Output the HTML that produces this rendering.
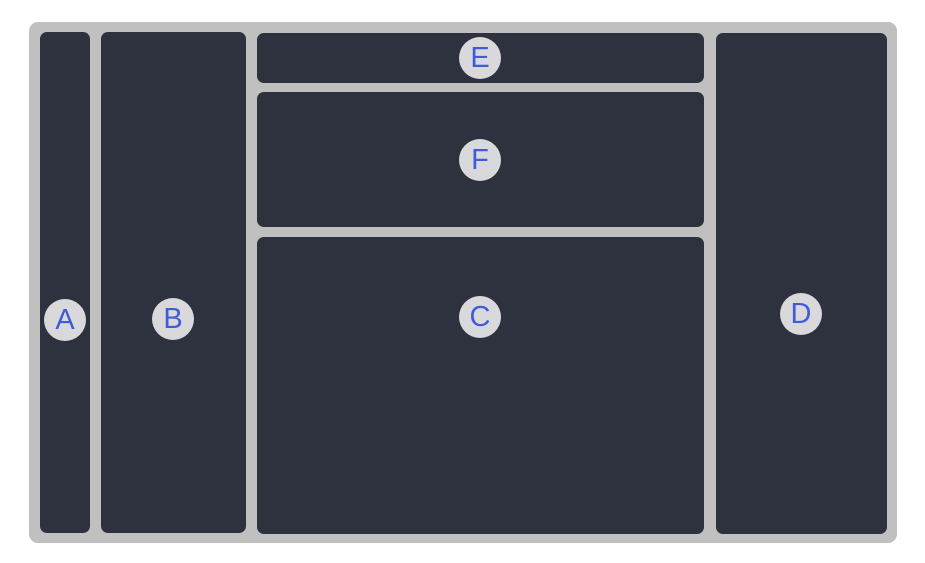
<!DOCTYPE html>
<html><head><meta charset="utf-8"><style>
body{margin:0;width:925px;height:563px;background:#fff;position:relative;overflow:hidden;font-family:"Liberation Sans",sans-serif}
.outer{position:absolute;left:29px;top:22px;width:868px;height:521px;background:#c0c0c0;border-radius:9px}
.p{position:absolute;background:#2e313e;border-radius:7px}
.c{position:absolute;width:42px;height:42px;border-radius:50%;background:#d9d9dc;color:#3f5bd9;font-size:29px;line-height:42px;text-align:center;transform:translate(-50%,-50%)}
</style></head><body>
<div class="outer"></div>
<div class="p" style="left:40px;top:32px;width:50px;height:501px"></div>
<div class="p" style="left:101px;top:32px;width:145px;height:501px"></div>
<div class="p" style="left:257px;top:33px;width:447px;height:50px"></div>
<div class="p" style="left:257px;top:92px;width:447px;height:135px"></div>
<div class="p" style="left:257px;top:237px;width:447px;height:297px"></div>
<div class="p" style="left:716px;top:33px;width:171px;height:501px"></div>
<div class="c" style="left:65px;top:320px">A</div>
<div class="c" style="left:173px;top:319px">B</div>
<div class="c" style="left:480px;top:58px">E</div>
<div class="c" style="left:480px;top:160px">F</div>
<div class="c" style="left:480px;top:317px">C</div>
<div class="c" style="left:801px;top:314px">D</div>
</body></html>
